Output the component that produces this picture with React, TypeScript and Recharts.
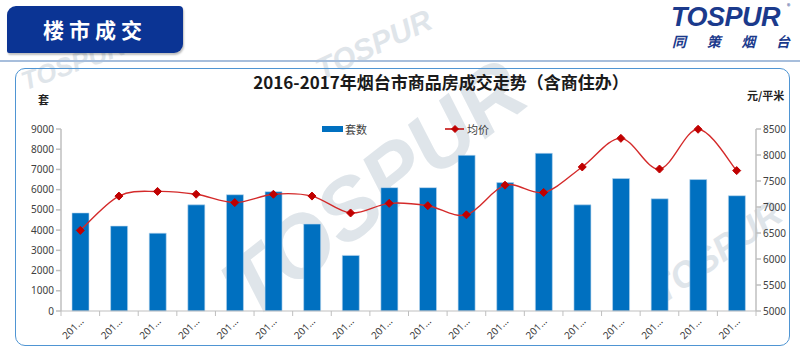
import { Bar, ComposedChart, Line, XAxis, YAxis } from "recharts";

const MONTHS = [
  "2016年1月", "2016年2月", "2016年3月", "2016年4月", "2016年5月", "2016年6月",
  "2016年7月", "2016年8月", "2016年9月", "2016年10月", "2016年11月", "2016年12月",
  "2017年1月", "2017年2月", "2017年3月", "2017年4月", "2017年5月", "2017年6月",
];
const UNITS_SOLD = [
  4850, 4200, 3850, 5250, 5750, 5900, 4300, 2750, 6100,
  6100, 7700, 6350, 7800, 5250, 6550, 5550, 6500, 5700,
];
const AVG_PRICE = [
  6550, 7210, 7300, 7245, 7085, 7245, 7210, 6885, 7070,
  7025, 6850, 7420, 7280, 7770, 8320, 7730, 8495, 7700,
];
const LEFT_TICKS = [0, 1000, 2000, 3000, 4000, 5000, 6000, 7000, 8000, 9000];
const RIGHT_TICKS = [5000, 5500, 6000, 6500, 7000, 7500, 8000, 8500];

const data = MONTHS.map((m, i) => ({ month: m, units: UNITS_SOLD[i], price: AVG_PRICE[i] }));

const W = 800;
const H = 353;
const MARGIN = { top: 129, right: 4, bottom: 6, left: 11 };
const STEP = (W - MARGIN.left - 50 - MARGIN.right - 40) / MONTHS.length;

const BLUE = "#0070c0";
const RED = "#c00000";
const AXIS = "#bfbfbf";
const TXT = "#404040";
const NUM_FONT = "'Noto Sans', sans-serif";
const CJK = "'Noto Sans CJK SC', sans-serif";

// Excel-style smoothed line (Catmull-Rom through the points)
const excelSmooth = (ctx: any) => {
  let pts: number[][] = [];
  return {
    areaStart() {},
    areaEnd() {},
    lineStart() {
      pts = [];
    },
    point(x: number, y: number) {
      pts.push([+x, +y]);
    },
    lineEnd() {
      if (!pts.length) return;
      ctx.moveTo(pts[0][0], pts[0][1]);
      const t = 1 / 6;
      for (let i = 0; i < pts.length - 1; i++) {
        const p0 = pts[i - 1] || pts[i];
        const p1 = pts[i];
        const p2 = pts[i + 1];
        const p3 = pts[i + 2] || p2;
        ctx.bezierCurveTo(
          p1[0] + (p2[0] - p0[0]) * t,
          p1[1] + (p2[1] - p0[1]) * t,
          p2[0] - (p3[0] - p1[0]) * t,
          p2[1] - (p3[1] - p1[1]) * t,
          p2[0],
          p2[1],
        );
      }
    },
  };
};

function Diamond({ cx, cy, r = 4 }: { cx?: number; cy?: number; r?: number }) {
  if (cx == null || cy == null) return null;
  return (
    <path
      d={`M${cx},${cy - r}L${cx + r},${cy}L${cx},${cy + r}L${cx - r},${cy}Z`}
      fill={RED}
      stroke={RED}
    />
  );
}

function CategoryTick(props: any) {
  const { x, y, index } = props;
  const ax = x + 4;
  const ay = y + 11;
  return (
    <g>
      <line x1={x - STEP / 2} y1={y} x2={x - STEP / 2} y2={y + 5} stroke={AXIS} />
      {index === MONTHS.length - 1 && (
        <line x1={x + STEP / 2} y1={y} x2={x + STEP / 2} y2={y + 5} stroke={AXIS} />
      )}
      <text
        x={ax}
        y={ay}
        transform={`rotate(-45 ${ax} ${ay})`}
        textAnchor="end"
        fontSize={10}
        fontFamily={NUM_FONT}
        fill={TXT}
      >
        201…
      </text>
    </g>
  );
}

function Watermarks() {
  const common = {
    fill: "#dfe5ea",
    fontFamily: "'Liberation Sans', Arial, sans-serif",
    fontWeight: 700,
    fontStyle: "italic" as const,
    textAnchor: "middle" as const,
  };
  return (
    <svg width={W} height={H} style={{ position: "absolute", left: 0, top: 0 }}>
      <text {...common} x={392} y={212} fontSize={86} transform="rotate(-38 392 212)">
        TOSPUR
      </text>
      <text {...common} x={378} y={54} fontSize={30} transform="rotate(-25 378 54)">
        TOSPUR
      </text>
      <text {...common} x={76} y={72} fontSize={26} transform="rotate(-20 76 72)">
        TOSPUR
      </text>
      <text {...common} x={724} y={262} fontSize={36} transform="rotate(-35 724 262)">
        TOSPUR
      </text>
    </svg>
  );
}

export default function App() {
  return (
    <div
      style={{
        position: "absolute",
        left: 0,
        top: 0,
        width: W,
        height: H,
        background: "#fff",
        overflow: "hidden",
        fontFamily: CJK,
      }}
    >
      <Watermarks />

      {/* header block */}
      <div
        style={{
          position: "absolute",
          left: 7,
          top: 6,
          width: 176,
          height: 47,
          background: "#0b3494",
          borderRadius: "9px 4px 9px 2px",
          boxShadow: "1px 2px 2px rgba(0,0,0,0.25)",
          color: "#fff",
          fontWeight: 700,
          fontSize: 21,
          letterSpacing: 5,
          lineHeight: "47px",
          textAlign: "center",
        }}
      >
        楼市成交
      </div>

      {/* logo */}
      <div
        style={{
          position: "absolute",
          left: 671,
          top: 2,
          fontFamily: "'Liberation Sans', Arial, sans-serif",
          fontWeight: 700,
          fontStyle: "italic",
          fontSize: 27,
          color: "#1b3a8c",
          letterSpacing: -0.5,
        }}
      >
        TOSPUR
      </div>
      <div style={{ position: "absolute", left: 787, top: 1, fontSize: 7, color: "#1b3a8c" }}>®</div>
      <div
        style={{
          position: "absolute",
          left: 672,
          top: 31,
          width: 118,
          display: "flex",
          justifyContent: "space-between",
          fontWeight: 700,
          fontSize: 14,
          fontStyle: "italic",
          color: "#1b3a8c",
        }}
      >
        <span>同</span>
        <span>策</span>
        <span>烟</span>
        <span>台</span>
      </div>

      {/* separators and frame */}
      <div style={{ position: "absolute", left: 0, top: 60, width: W, height: 2, background: "#a7bedc" }} />
      <div
        style={{
          position: "absolute",
          left: 15,
          top: 68,
          width: 773,
          height: 276,
          border: "1.5px solid #4f95d3",
          borderRadius: 10,
        }}
      />

      {/* title */}
      <div
        style={{
          position: "absolute",
          left: 0,
          top: 69,
          width: 882,
          textAlign: "center",
          fontWeight: 700,
          fontSize: 17,
          color: "#1a1a1a",
        }}
      >
        2016-2017年烟台市商品房成交走势（含商住办）
      </div>

      {/* unit labels */}
      <div style={{ position: "absolute", left: 38, top: 91, fontSize: 11, fontWeight: 700, color: "#222" }}>套</div>
      <div style={{ position: "absolute", left: 747, top: 87, fontSize: 11, fontWeight: 700, color: "#222" }}>元/平米</div>

      {/* legend */}
      <div style={{ position: "absolute", left: 322, top: 126, width: 21, height: 6, background: BLUE }} />
      <div style={{ position: "absolute", left: 345, top: 121, fontSize: 11, color: TXT }}>套数</div>
      <svg width={20} height={10} style={{ position: "absolute", left: 445, top: 124 }}>
        <line x1={0} y1={5} x2={19} y2={5} stroke={RED} strokeWidth={1.5} />
        <Diamond cx={10} cy={5} r={3.5} />
      </svg>
      <div style={{ position: "absolute", left: 467, top: 121, fontSize: 11, color: TXT }}>均价</div>

      <div style={{ position: "absolute", left: 0, top: 0 }}>
        <ComposedChart width={W} height={H} data={data} margin={MARGIN} barCategoryGap="28%">
          <XAxis
            dataKey="month"
            height={36}
            interval={0}
            stroke={AXIS}
            tickLine={false}
            tickSize={0}
            tickMargin={0}
            tick={<CategoryTick />}
          />
          <YAxis
            yAxisId="left"
            orientation="left"
            width={50}
            domain={[0, 9000]}
            ticks={LEFT_TICKS}
            interval={0}
            stroke={AXIS}
            strokeWidth={1.5}
            tickSize={5}
            tickMargin={2}
            tick={{ fill: TXT, fontSize: 10, fontFamily: NUM_FONT }}
          />
          <YAxis
            yAxisId="right"
            orientation="right"
            width={40}
            domain={[5000, 8500]}
            ticks={RIGHT_TICKS}
            interval={0}
            stroke={AXIS}
            strokeWidth={1.5}
            tickSize={5}
            tickMargin={2}
            tick={{ fill: TXT, fontSize: 10, fontFamily: NUM_FONT }}
          />
          <Bar
            yAxisId="left"
            dataKey="units"
            fill={BLUE}
            stroke="#bcd7ee"
            strokeWidth={0.6}
            barSize={17}
            isAnimationActive={false}
          />
          <Line
            yAxisId="right"
            dataKey="price"
            type={excelSmooth as any}
            stroke="#d42a2a"
            strokeWidth={1.4}
            dot={(p: any) => <Diamond key={p.index} cx={p.cx} cy={p.cy} />}
            activeDot={false}
            isAnimationActive={false}
          />
        </ComposedChart>
      </div>
    </div>
  );
}
